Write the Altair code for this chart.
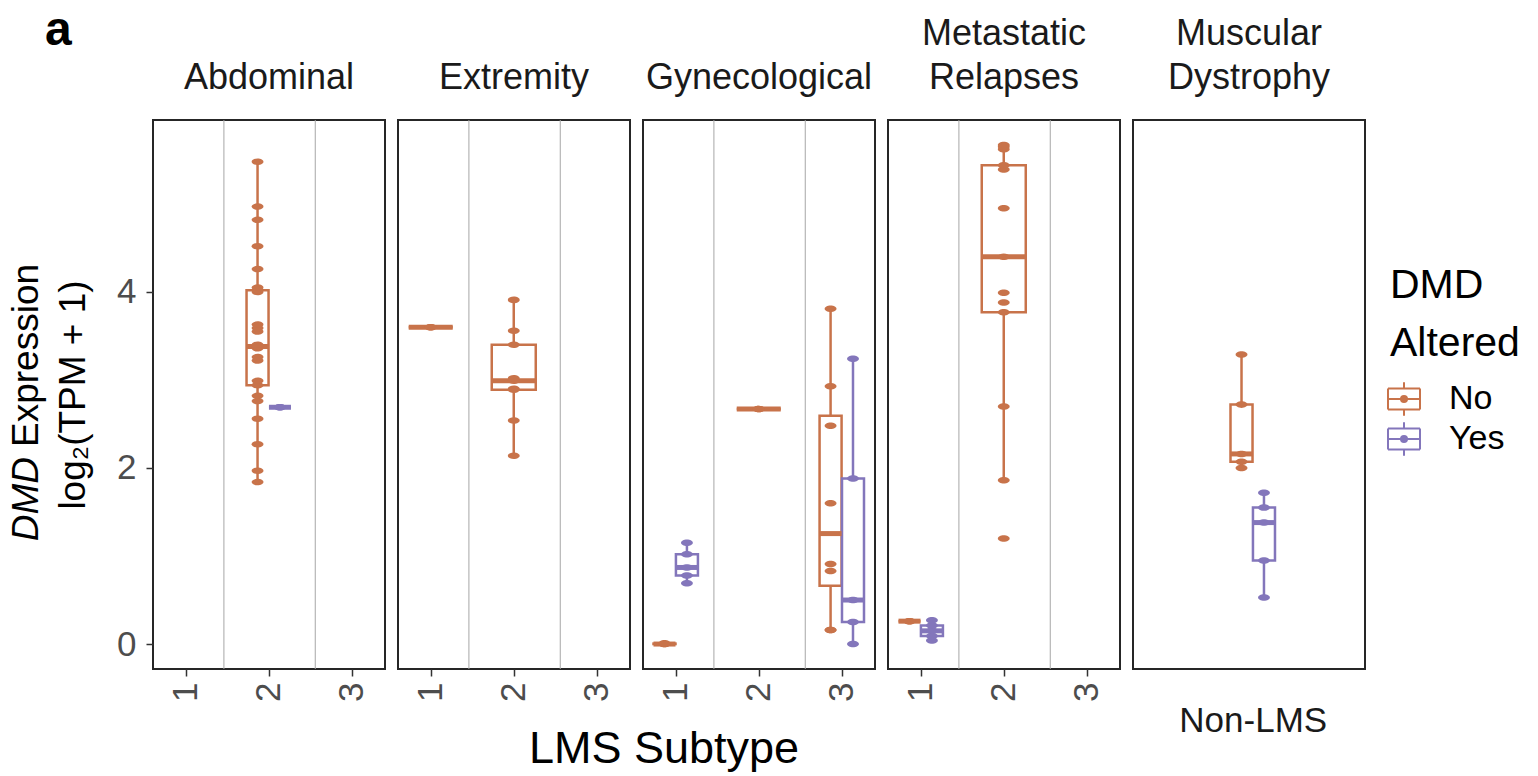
import altair as alt
import numpy as np
import pandas as pd

FONT = "Liberation Sans"

# Facet panels (tumour site) and their strip labels
sites = ["Abdominal", "Extremity", "Gynecological", "Metastatic Relapses", "Muscular Dystrophy"]
site_titles = [["Abdominal"], ["Extremity"], ["Gynecological"],
               ["Metastatic", "Relapses"], ["Muscular", "Dystrophy"]]

altered_levels = ["No", "Yes"]
altered_colors = ["#C8734A", "#8376BB"]
legend_title = ["DMD", "Altered"]

subtype_ticks = [1, 2, 3]
other_label = "Non-LMS"
divider_positions = [1.46, 2.56]
y_ticks = [0, 2, 4]

# DMD expression, log2(TPM + 1), per site / LMS subtype / DMD altered status
abdominal_2_no = [1.84, 1.97, 2.27, 2.56, 2.76, 2.82, 2.94, 2.99, 3.22, 3.26, 3.36, 3.38, 3.38,
                  3.40, 3.55, 3.59, 3.63, 4.00, 4.02, 4.05, 4.26, 4.52, 4.82, 4.97, 5.48]
abdominal_2_yes = [2.69, 2.69]
extremity_1_no = [3.60, 3.60]
extremity_2_no = [2.14, 2.54, 2.89, 2.90, 2.99, 3.02, 3.40, 3.56, 3.91]
gynecological_1_no = [0.00, 0.00, 0.01]
gynecological_1_yes = [0.69, 0.78, 0.87, 1.02, 1.15]
gynecological_2_no = [2.67, 2.67]
gynecological_3_no = [0.16, 0.16, 0.83, 0.91, 1.60, 2.48, 2.93, 3.81]
gynecological_3_yes = [0.00, 0.25, 0.50, 1.88, 3.24]
metastatic_1_no = [0.26, 0.26]
metastatic_1_yes = [0.04, 0.09, 0.15, 0.21, 0.27]
metastatic_2_no = [1.20, 1.86, 2.70, 3.77, 3.88, 3.99, 4.40, 4.95, 5.39, 5.44, 5.62, 5.65, 5.67]
dystrophy_no = [2.00, 2.07, 2.16, 2.72, 3.29]
dystrophy_yes = [0.53, 0.95, 1.38, 1.55, 1.72]

groups = [
    ("Abdominal", 2, "No", abdominal_2_no),
    ("Abdominal", 2, "Yes", abdominal_2_yes),
    ("Extremity", 1, "No", extremity_1_no),
    ("Extremity", 2, "No", extremity_2_no),
    ("Gynecological", 1, "No", gynecological_1_no),
    ("Gynecological", 1, "Yes", gynecological_1_yes),
    ("Gynecological", 2, "No", gynecological_2_no),
    ("Gynecological", 3, "No", gynecological_3_no),
    ("Gynecological", 3, "Yes", gynecological_3_yes),
    ("Metastatic Relapses", 1, "No", metastatic_1_no),
    ("Metastatic Relapses", 1, "Yes", metastatic_1_yes),
    ("Metastatic Relapses", 2, "No", metastatic_2_no),
    ("Muscular Dystrophy", 1, "No", dystrophy_no),
    ("Muscular Dystrophy", 1, "Yes", dystrophy_yes),
]

# Box-plot layout: full box width, dodge when both groups share a subtype
BOX_W = 0.53
DODGE = 0.135

box_rows, point_rows = [], []
for site, sub, status, vals in groups:
    n_here = sum(1 for g in groups if g[0] == site and g[1] == sub)
    if n_here == 2:
        centre = sub + (-DODGE if status == "No" else DODGE)
        half = BOX_W / 4
    else:
        centre = sub
        half = BOX_W / 2
    v = np.asarray(vals, dtype=float)
    q1, med, q3 = np.percentile(v, [25, 50, 75])
    iqr = q3 - q1
    lo = v[v >= q1 - 1.5 * iqr].min()
    hi = v[v <= q3 + 1.5 * iqr].max()
    box_rows.append(dict(site=site, altered=status, xc=centre, x0=centre - half,
                         x1=centre + half, q1=q1, median=med, q3=q3, lo=lo, hi=hi))
    for val in vals:
        point_rows.append(dict(site=site, altered=status, xc=centre, value=val))

box_df = pd.DataFrame(box_rows)
pt_df = pd.DataFrame(point_rows)
div_df = pd.DataFrame({"pos": divider_positions})

# ggplot-style 5% expansion of the shared y range
all_vals = pt_df["value"]
span = all_vals.max() - all_vals.min()
y_domain = [all_vals.min() - 0.05 * span, all_vals.max() + 0.05 * span]

PANEL_W, PANEL_H = 232, 549
x_domain_lms = [0.606, 3.40]
x_domain_other = [-0.44, 2.35]

color_scale = alt.Scale(domain=altered_levels, range=altered_colors)
ellipse = "M-1,0A1,0.55 0 1,0 1,0A1,0.55 0 1,0 -1,0Z"
LINE_W = 2.5


def note(txt, x, y, **kw):
    """A single free-standing text label placed in pixel coordinates of its panel."""
    return alt.Chart(pd.DataFrame({"t": [txt]})).mark_text(font=FONT, **kw).encode(
        text="t:N", x=alt.value(x), y=alt.value(y))


def panel(i):
    site = sites[i]
    last = i == len(sites) - 1
    xs = alt.Scale(domain=x_domain_other if last else x_domain_lms, nice=False, zero=False)
    ys = alt.Scale(domain=y_domain, nice=False, zero=False)
    if last:
        x_axis = alt.Axis(values=[1], labelExpr=f"'{other_label}'", labelAngle=0, title=None,
                          grid=False, domain=False, ticks=False, labelPadding=34,
                          labelBaseline="top", labelColor="#1A1A1A")
    else:
        x_axis = alt.Axis(values=subtype_ticks, format="d", labelAngle=270, title=None,
                          grid=False, domain=False, labelPadding=6)
    y_axis = (alt.Axis(values=y_ticks, format="d", title=None, grid=False, domain=False,
                       labelPadding=10) if i == 0 else None)

    def X(f):
        return alt.X(f, scale=xs, axis=x_axis)

    def Y(f):
        return alt.Y(f, scale=ys, axis=y_axis)

    col = alt.Color("altered:N", scale=color_scale, legend=None)
    bdata = box_df[box_df.site == site]
    pdata = pt_df[pt_df.site == site]

    layers = []
    if not last:
        layers.append(alt.Chart(div_df).mark_rule(color="#A6A6A6", strokeWidth=1)
                      .encode(x=X("pos:Q")))
    b = alt.Chart(bdata)
    layers += [
        b.mark_rule(strokeWidth=LINE_W).encode(x=X("xc:Q"), y=Y("lo:Q"), y2="q1:Q", color=col),
        b.mark_rule(strokeWidth=LINE_W).encode(x=X("xc:Q"), y=Y("q3:Q"), y2="hi:Q", color=col),
        b.mark_rect(fill="white", strokeWidth=LINE_W).encode(
            x=X("x0:Q"), x2="x1:Q", y=Y("q1:Q"), y2="q3:Q",
            stroke=alt.Stroke("altered:N", scale=color_scale, legend=None)),
        b.mark_rule(strokeWidth=5).encode(x=X("x0:Q"), x2="x1:Q", y=Y("median:Q"), color=col),
        alt.Chart(pdata).mark_point(shape=ellipse, filled=True, size=140, opacity=1)
        .encode(x=X("xc:Q"), y=Y("value:Q"), color=col),
    ]

    # strip label above the panel, last line nearest the frame
    for k, line in enumerate(reversed(site_titles[i])):
        layers.append(note(line, PANEL_W / 2, -31 - 44 * k, fontSize=36, align="center",
                           baseline="alphabetic", color="#1A1A1A"))

    if i == 0:
        # panel tag, y-axis title (two lines, gene name italic) and shared x-axis title
        layers += [
            note("a", -108, -75, fontSize=48, fontWeight="bold",
                 align="left", baseline="alphabetic", color="black"),
            note("DMD", -115, 337, fontSize=37, fontStyle="italic",
                 angle=270, align="right", baseline="alphabetic", color="black"),
            note("Expression", -115, 327, fontSize=37,
                 angle=270, align="left", baseline="alphabetic", color="black"),
            note("log\u2082(TPM + 1)", -68, 275, fontSize=37,
                 angle=270, align="center", baseline="alphabetic", color="black"),
            note("LMS Subtype", 511, 643, fontSize=45,
                 align="center", baseline="alphabetic", color="black"),
        ]

    return alt.layer(*layers).properties(width=PANEL_W, height=PANEL_H)


# Legend drawn as its own column: box glyph + dot + label per altered status
leg_df = pd.DataFrame({"altered": altered_levels})
leg_y = alt.Y("altered:N", axis=None,
              scale=alt.Scale(domain=altered_levels, range=[279, 319], padding=0))
glyph = ("M-1,-0.66H1 M1,-0.66V0.66 M1,0.66H-1 M-1,0.66V-0.66 "
         "M0,-0.66V-1.04 M0,0.66V1.04 M-1,0H1")
leg = alt.Chart(leg_df)
legend_layers = [
    leg.mark_point(shape=glyph, filled=False, strokeWidth=2, size=1024, opacity=1).encode(
        x=alt.value(26), y=leg_y,
        stroke=alt.Stroke("altered:N", scale=color_scale, legend=None)),
    leg.mark_point(shape="circle", filled=True, size=64, opacity=1).encode(
        x=alt.value(26), y=leg_y, color=alt.Color("altered:N", scale=color_scale, legend=None)),
    leg.mark_text(font=FONT, fontSize=34, align="left", baseline="middle", color="black").encode(
        x=alt.value(71), y=leg_y, text="altered:N"),
]
for k, line in enumerate(legend_title):
    legend_layers.append(note(line, 12, 178 + 58 * k, fontSize=41, align="left",
                              baseline="alphabetic", color="black"))
legend_panel = alt.layer(*legend_layers).properties(
    width=150, height=PANEL_H, view=alt.ViewBackground(stroke="transparent"))

chart = alt.hconcat(*[panel(i) for i in range(len(sites))], legend_panel,
                    spacing=13, bounds="flush").properties(
    padding={"left": 7, "top": 6, "right": 0, "bottom": 0}
).configure_view(stroke="#262626", strokeWidth=2).configure_axis(
    labelFont=FONT, labelFontSize=35, labelColor="#4D4D4D",
    tickColor="#333333", tickWidth=1.5, tickSize=7,
).configure_text(font=FONT)

chart.save("out.html", embed_options={"renderer": "svg", "actions": False})
